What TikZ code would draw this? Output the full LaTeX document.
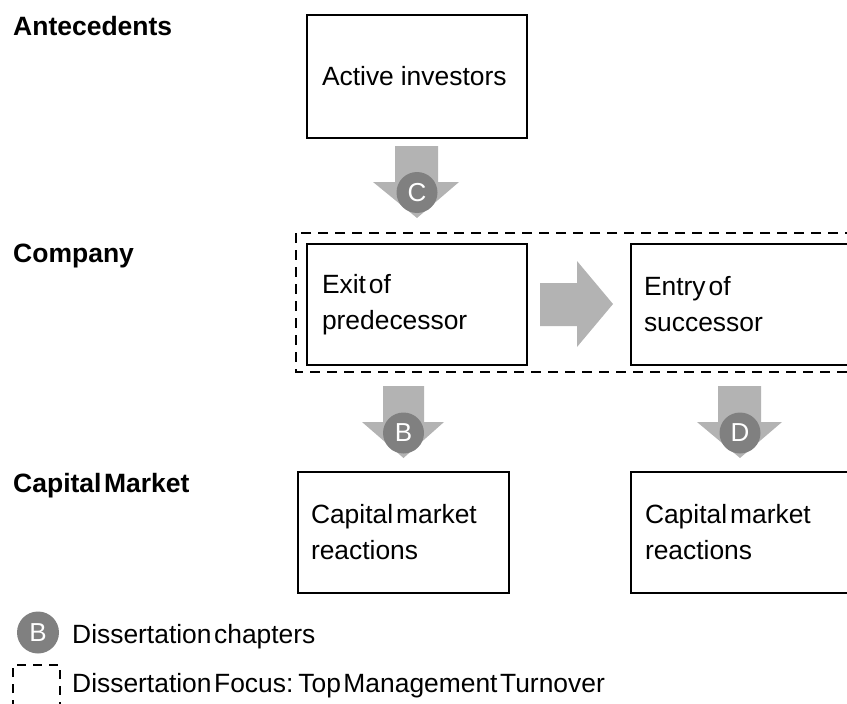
\documentclass[tikz,border=0pt]{standalone}
\usepackage{fontspec}
\setmainfont[WordSpace=0.35]{Liberation Sans}
\definecolor{arrowgrey}{HTML}{B3B3B3}
\definecolor{circgrey}{HTML}{808080}
\begin{document}
\begin{tikzpicture}[x=1pt,y=-1pt,
  box/.style={draw=black, line width=1.2pt, inner sep=0pt, align=left,
    font=\fontsize{26.4}{36}\selectfont, execute at begin node={\spaceskip=3pt\relax}},
  lbl/.style={anchor=base west, inner sep=0pt, font=\fontsize{26.5}{28}\selectfont\bfseries},
  legtext/.style={anchor=base west, inner sep=0pt, font=\fontsize{26.4}{32}\selectfont},
  chap/.style={circle, fill=circgrey, text=white, minimum size=41pt, inner sep=0pt,
    font=\fontsize{26}{28}\selectfont},
  focus/.style={dashed, line width=2.4pt, dash pattern=on 10pt off 7pt},
  blockarrow/.style={fill=arrowgrey}]
\clip (0,0) rectangle (847,704);
\useasboundingbox (0,0) rectangle (847,704);
% row labels
\node[lbl] (antec) at (13,35) {Antecedents};
\node[lbl] (comp) at (13,262) {Company};
\node[lbl] (capm) at (13,492) {Capital Market};
% focus dashed region
\draw[focus] (296,233) rectangle (870,372);
% boxes
\node[box, minimum width=220pt, minimum height=123pt, text width=190pt,
  execute at begin node={\spaceskip=7pt\relax}] (active) at (417,76.5) {Active investors};
\node[box, minimum width=220pt, minimum height=121pt, text width=190pt] (exit) at (417,304.5) {Exit of\\predecessor};
\node[box, minimum width=220pt, minimum height=121pt, text width=194pt] (entry) at (741,304.5) {Entry of\\successor};
\node[box, minimum width=211pt, minimum height=121pt, text width=185pt] (cmr1) at (403.5,532.5) {Capital market\\reactions};
\node[box, minimum width=220pt, minimum height=121pt, text width=192pt] (cmr2) at (741,532.5) {Capital market\\reactions};
% block arrows
\fill[blockarrow] (395,146) -- (438,146) -- (438,182) -- (459,182) -- (417,218) -- (373,182) -- (395,182) -- cycle;
\fill[blockarrow] (383,386) -- (424,386) -- (424,422) -- (444,422) -- (403.5,458) -- (362,422) -- (383,422) -- cycle;
\fill[blockarrow] (718,386) -- (761,386) -- (761,422) -- (782,422) -- (740,458) -- (697,422) -- (718,422) -- cycle;
\fill[blockarrow] (540,283) -- (577,283) -- (577,261) -- (613,304) -- (577,347) -- (577,326) -- (540,326) -- cycle;
% chapter circles
\node[chap] (c) at (417,192.5) {C};
\node[chap] (b) at (403.5,433) {B};
\node[chap] (d) at (740,433) {D};
% legend
\node[chap, minimum size=42pt] (legb) at (38,632.5) {B};
\node[legtext] (legbt) at (72,643) {Dissertation chapters};
\draw[focus, line width=2pt, dash pattern=on 9pt off 7pt] (13,725) -- (13,665) -- (60,665) -- (60,725);
\node[legtext] (legft) at (72,692) {Dissertation Focus: Top Management Turnover};
\end{tikzpicture}
\end{document}
